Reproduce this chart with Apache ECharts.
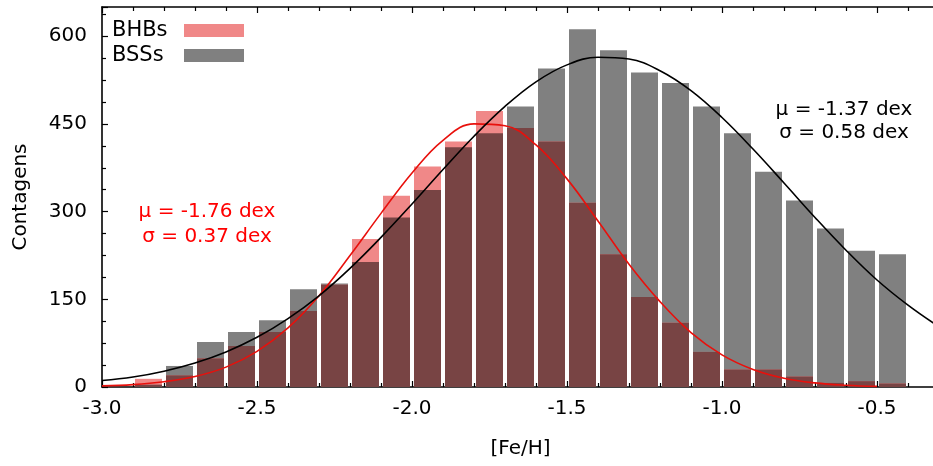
<!DOCTYPE html>
<html><head><meta charset="utf-8">
<script src="https://cdn.jsdelivr.net/npm/echarts@6/dist/echarts.min.js"></script>
<style>html,body{margin:0;padding:0;background:#fff}#c{width:933px;height:466px}</style>
</head><body><div id="c"></div>
<script>
// Histogram bin centres ([Fe/H]) and counts
const binCenters = [-2.85,-2.75,-2.65,-2.55,-2.45,-2.35,-2.25,-2.15,-2.05,-1.95,-1.85,-1.75,-1.65,-1.55,-1.45,-1.35,-1.25,-1.15,-1.05,-0.95,-0.85,-0.75,-0.65,-0.55,-0.45];
const bhbCounts  = [14,20,49,70,94,130,175,253,327,377,420,472,443,420,315,227,154,110,60,30,30,18,7,10,6];
const bssCounts  = [4,36,77,94,114,167,177,214,290,337,410,434,480,545,612,576,538,520,480,434,368,319,271,233,227];

// Fitted gaussian curves
const bhbCurveX = [-3.0,-2.9,-2.8,-2.7,-2.6,-2.5,-2.4,-2.3,-2.2,-2.1,-2.0,-1.9,-1.8,-1.7,-1.6,-1.5,-1.4,-1.3,-1.2,-1.1,-1.0,-0.9,-0.8,-0.7,-0.6,-0.5];
const bhbCurveY = [2,4,9,18,34,61,101,156,225,297,366,422,450,447,414,356,284,210,146,93,55,30,15,7,3,1];
const bssCurveX = [-3.0,-2.9,-2.8,-2.7,-2.6,-2.5,-2.4,-2.3,-2.2,-2.1,-2.0,-1.9,-1.8,-1.7,-1.6,-1.5,-1.4,-1.3,-1.2,-1.1,-1.0,-0.9,-0.8,-0.7,-0.6,-0.5,-0.4,-0.3];
const bssCurveY = [11,17,27,41,60,85,117,156,203,256,313,372,429,480,522,551,564,561,541,507,461,407,349,290,234,183,140,103];

const xTickLabels = ['-3.0','-2.5','-2.0','-1.5','-1.0','-0.5'];
const yTickLabels = ['0','150','300','450','600'];

const FONT = 'DejaVu Sans';
const SALMON = '#f08888', GRAY = '#808080', OVERLAP = '#784444';

const pairs = (xs, ys) => xs.map((x, i) => [x, ys[i]]);
const overlap = bhbCounts.map((v, i) => Math.min(v, bssCounts[i]));

const chart = echarts.init(document.getElementById('c'), null, {renderer: 'canvas'});
const axisLineStyle = {color: '#000', width: 1.6};
const baseX = {
  type: 'value', min: -3.0, max: -0.3, interval: 0.5,
  axisLine: {show: true, onZero: false, lineStyle: axisLineStyle},
  axisTick: {show: true, inside: true, length: 6, lineStyle: {color: '#000', width: 1.2}},
  minorTick: {show: true, splitNumber: 5, length: 4, lineStyle: {color: '#000', width: 1.2}},
  splitLine: {show: false}, minorSplitLine: {show: false}
};
const baseY = {
  type: 'value', min: 0, max: 650, interval: 150,
  axisLine: {show: true, onZero: false, lineStyle: axisLineStyle},
  axisTick: {show: true, inside: true, length: 6, lineStyle: {color: '#000', width: 1.2}},
  minorTick: {show: true, splitNumber: 4, length: 4, lineStyle: {color: '#000', width: 1.2}},
  splitLine: {show: false}, minorSplitLine: {show: false}
};

chart.setOption({
  animation: false,
  backgroundColor: '#fff',
  grid: {left: 102, right: -6, top: 7, bottom: 79, outerBoundsMode: 'none', containLabel: false},
  legend: {
    orient: 'vertical', left: 107, top: 13, align: 'right', itemWidth: 60, itemHeight: 13, itemGap: 0,
    icon: 'rect', selectedMode: false, data: ['BHBs', 'BSSs'],
    formatter: name => '{a|' + name + '}',
    textStyle: {fontFamily: FONT, fontSize: 21, color: '#000', lineHeight: 25,
      rich: {a: {fontFamily: FONT, fontSize: 21, color: '#000', width: 58, align: 'left', padding: [0, 9, 0, 0], lineHeight: 25}}}
  },
  xAxis: [
    Object.assign({}, baseX, {
      position: 'bottom', name: '[Fe/H]', nameLocation: 'middle', nameGap: 52,
      nameTextStyle: {fontFamily: FONT, fontSize: 20, color: '#000'},
      axisLabel: {show: true, margin: 12, fontFamily: FONT, fontSize: 20, color: '#000', showMaxLabel: false,
        formatter: v => { const i = Math.round((v + 3.0) / 0.5); return (i >= 0 && i < xTickLabels.length && Math.abs(v - (-3.0 + i * 0.5)) < 1e-6) ? xTickLabels[i] : ''; }}
    }),
    Object.assign({}, baseX, {position: 'top', axisLabel: {show: false}})
  ],
  yAxis: [
    Object.assign({}, baseY, {
      position: 'left', name: 'Contagens', nameLocation: 'middle', nameGap: 71,
      nameTextStyle: {fontFamily: FONT, fontSize: 20, color: '#000'},
      axisLabel: {show: true, margin: 15, fontFamily: FONT, fontSize: 20, color: '#000', showMaxLabel: false,
        formatter: v => { const i = Math.round(v / 150); return (Math.abs(v - i * 150) < 1e-6 && i < yTickLabels.length) ? yTickLabels[i] : ''; }}
    }),
    Object.assign({}, baseY, {position: 'right', axisLabel: {show: false}})
  ],
  series: [
    {name: 'BSSs', type: 'bar', xAxisIndex: 0, yAxisIndex: 0, barWidth: 27, barGap: '-100%',
      itemStyle: {color: GRAY}, data: pairs(binCenters, bssCounts), z: 2},
    {name: 'BHBs', type: 'bar', xAxisIndex: 0, yAxisIndex: 0, barWidth: 27, barGap: '-100%',
      itemStyle: {color: SALMON}, data: pairs(binCenters, bhbCounts), z: 2},
    {name: 'overlap', type: 'bar', xAxisIndex: 0, yAxisIndex: 0, barWidth: 27, barGap: '-100%',
      itemStyle: {color: OVERLAP}, data: pairs(binCenters, overlap), z: 2},
    {name: 'BHB fit', type: 'line', smooth: 0.4, showSymbol: false, xAxisIndex: 0, yAxisIndex: 0,
      lineStyle: {color: '#e8100c', width: 1.6}, data: pairs(bhbCurveX, bhbCurveY), z: 3},
    {name: 'BSS fit', type: 'line', smooth: 0.4, showSymbol: false, xAxisIndex: 0, yAxisIndex: 0,
      lineStyle: {color: '#000', width: 1.6}, data: pairs(bssCurveX, bssCurveY), z: 4}
  ],
  graphic: [
    {type: 'text', x: 207, y: 212, silent: true, style: {text: 'μ = -1.76 dex', align: 'center', verticalAlign: 'middle', font: '20px "DejaVu Sans"', fill: '#ff0000'}},
    {type: 'text', x: 207, y: 237, silent: true, style: {text: 'σ = 0.37 dex', align: 'center', verticalAlign: 'middle', font: '20px "DejaVu Sans"', fill: '#ff0000'}},
    {type: 'text', x: 844, y: 110, silent: true, style: {text: 'μ = -1.37 dex', align: 'center', verticalAlign: 'middle', font: '20px "DejaVu Sans"', fill: '#000'}},
    {type: 'text', x: 844, y: 133, silent: true, style: {text: 'σ = 0.58 dex', align: 'center', verticalAlign: 'middle', font: '20px "DejaVu Sans"', fill: '#000'}}
  ]
});
</script>
</body></html>
